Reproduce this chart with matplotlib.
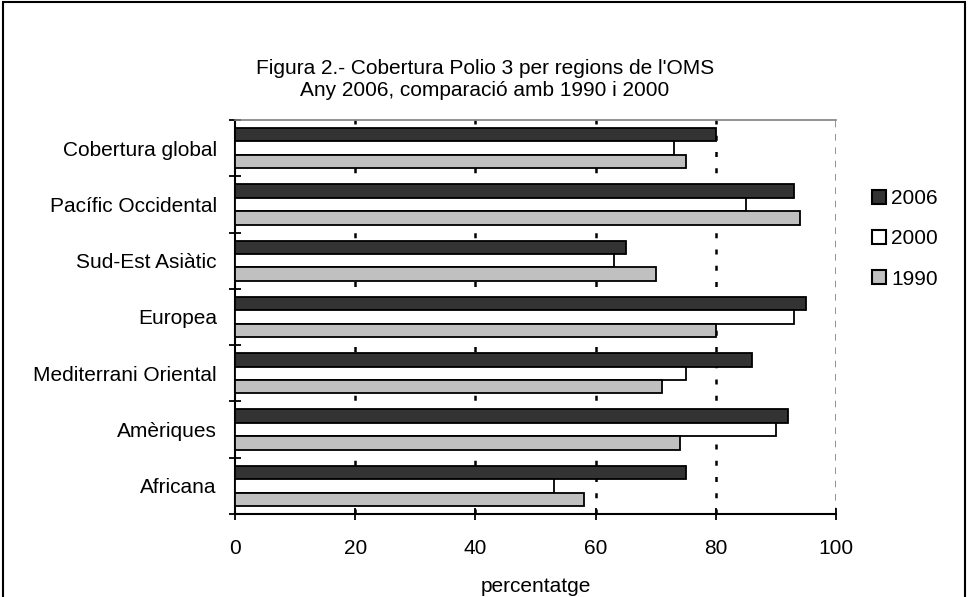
import numpy as np
import matplotlib
matplotlib.use("Agg")
import matplotlib.pyplot as plt
from matplotlib.patches import Patch, Rectangle

regions = ["Cobertura global", "Pacífic Occidental", "Sud-Est Asiàtic", "Europea",
           "Mediterrani Oriental", "Amèriques", "Africana"]
v2006 = [80, 93, 65, 95, 86, 92, 75]
v2000 = [73, 85, 63, 93, 75, 90, 53]
v1990 = [75, 94, 70, 80, 71, 74, 58]
years = ["2006", "2000", "1990"]
colors = ["#333333", "#ffffff", "#c0c0c0"]

plt.rcParams['font.family'] = ['Liberation Sans', 'DejaVu Sans']
fs = 15

fig = plt.figure(figsize=(9.68, 5.97), dpi=100)
ax = fig.add_axes([235/968, 1-514/597, (836-235)/968, (514-120)/597])

n = len(regions)
y = np.arange(n)
h = 0.238
for i, (vals, c) in enumerate(zip([v2006, v2000, v1990], colors)):
    ax.barh(y + (i - 1) * h, vals, height=h, color=c, edgecolor='black',
            linewidth=1.3, zorder=3)

ax.set_xlim(0, 100)
ax.set_ylim(n - 0.5, -0.5)

# dotted gridlines like the excel original
for gx in [20, 40, 60, 80]:
    ax.axvline(gx, color='black', lw=1.8, linestyle=(0, (2, 4.5)), zorder=1)
ax.axvline(100, color='#808080', lw=1.2, linestyle=(0, (4, 4)), zorder=1)

ax.spines['top'].set_color('#808080')
ax.spines['top'].set_linewidth(1.2)
ax.spines['right'].set_visible(False)
for s in ['left', 'bottom']:
    ax.spines[s].set_linewidth(1.5)

ax.set_xticks([0, 20, 40, 60, 80, 100])
ax.tick_params(axis='x', direction='inout', length=8, width=1.3, labelsize=fs, pad=14)
ax.set_yticks(y)
ax.set_yticklabels(regions, fontsize=fs)
ax.set_yticks(np.arange(n + 1) - 0.5, minor=True)
ax.tick_params(axis='y', which='major', length=0, pad=13)
ax.tick_params(axis='y', which='minor', direction='inout', length=8, width=1.3)
ax.set_xlabel("percentatge", fontsize=fs, labelpad=14)

handles = [Patch(facecolor=c, edgecolor='black', linewidth=1.5) for c in colors]
fig.legend(handles, years, loc='center left', bbox_to_anchor=(862/968, 1-239/597),
           frameon=False, fontsize=fs, handlelength=0.65, handleheight=0.65,
           handletextpad=0.25, labelspacing=1.02, borderpad=0)

fig.text(485/968, 1-68/597, "Figura 2.- Cobertura Polio 3 per regions de l'OMS",
         ha='center', va='center', fontsize=fs)
fig.text(485/968, 1-90/597, "Any 2006, comparació amb 1990 i 2000",
         ha='center', va='center', fontsize=fs)

fig.patches.append(Rectangle((3/968, -0.1), 962/968, 1.1 - 2/597, transform=fig.transFigure,
                             fill=False, edgecolor='black', linewidth=1.5))

fig.savefig("out.png", dpi=100)
